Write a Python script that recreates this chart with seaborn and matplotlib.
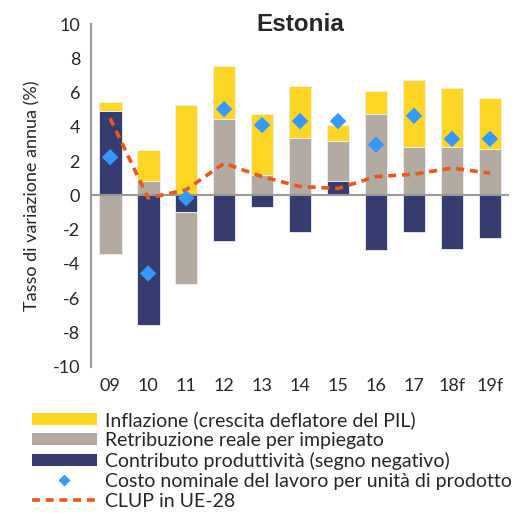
import numpy as np
import matplotlib
matplotlib.use("Agg")
import matplotlib.pyplot as plt
import seaborn as sns
from matplotlib.patches import Patch
from matplotlib.lines import Line2D

# --- data ---
anni = ["09", "10", "11", "12", "13", "14", "15", "16", "17", "18f", "19f"]
inflazione = [0.53, 1.79, 5.27, 3.12, 3.57, 3.04, 0.95, 1.35, 3.87, 3.45, 2.93]
retribuzione = [-3.39, 0.87, -4.20, 4.44, 1.18, 3.37, 2.29, 4.73, 2.85, 2.85, 2.73]
produttivita = [4.94, -7.58, -0.97, -2.67, -0.68, -2.15, 0.87, -3.20, -2.15, -3.10, -2.46]
clup_paese = [2.23, -4.55, -0.16, 5.04, 4.11, 4.34, 4.34, 2.96, 4.65, 3.30, 3.30]
clup_ue28 = [4.50, -0.15, 0.33, 1.88, 1.10, 0.52, 0.41, 1.10, 1.24, 1.60, 1.30]

col_infl = "#FFD624"
col_retr = "#B3AAA1"
col_prod = "#363B70"
col_diam = "#3399FF"
col_ue = "#E8581C"

sns.set_style("white")
plt.rcParams["font.family"] = ["Lato", "DejaVu Sans"]
plt.rcParams["axes.unicode_minus"] = False

fig = plt.figure(figsize=(5.12, 5.13), dpi=100)
ax = fig.add_axes([0.178, 0.285, 0.816, 0.668])

# stacking: productivity sits next to zero, then real pay, then inflation
prod = np.array(produttivita)
retr = np.array(retribuzione)
infl = np.array(inflazione)

pos_b = np.zeros(len(anni))
neg_b = np.zeros(len(anni))

def stack(vals):
    global pos_b, neg_b
    bottom = np.where(vals >= 0, pos_b, neg_b)
    pos_b = pos_b + np.clip(vals, 0, None)
    neg_b = neg_b + np.clip(vals, None, 0)
    return bottom

b_prod = stack(prod)
b_retr = stack(retr)
b_infl = stack(infl)

for vals, bot, col in [(prod, b_prod, col_prod), (retr, b_retr, col_retr), (infl, b_infl, col_infl)]:
    sns.barplot(x=anni, y=vals, bottom=bot, color=col, width=0.6,
                saturation=1, edgecolor="#EEEEF4", linewidth=0.6, ax=ax)

pos = np.arange(len(anni))
sns.lineplot(x=pos, y=clup_ue28, color=col_ue, linewidth=2.6, ax=ax,
             dashes=False, linestyle=(0, (2.2, 1.6)), zorder=4)
sns.scatterplot(x=pos, y=clup_paese, marker="D", s=70, color=col_diam,
                edgecolor="none", ax=ax, zorder=5)

ax.axhline(0, color="#999999", linewidth=1.5, zorder=3)
ax.set_ylim(-10, 10)
ax.set_xlim(-0.5, len(anni) - 0.5)
ax.set_yticks(np.arange(-10, 11, 2))
ax.set_xticks(pos)
ax.set_xticklabels(anni)
ax.tick_params(axis="both", labelsize=13, length=0, pad=8)
ax.set_xlabel("")
ax.set_ylabel("Tasso di variazione annua (%)", fontsize=13, labelpad=9)
for s in ["top", "right", "bottom"]:
    ax.spines[s].set_visible(False)
ax.spines["left"].set_color("#999999")
ax.spines["left"].set_linewidth(1.5)

fig.text(0.586, 0.953, "Estonia", ha="center", va="center", fontsize=17.5,
         fontweight="bold", family="Liberation Sans")

handles = [
    Patch(facecolor=col_infl, edgecolor="none"),
    Patch(facecolor=col_retr, edgecolor="none"),
    Patch(facecolor=col_prod, edgecolor="none"),
    Line2D([], [], marker="D", color=col_diam, linestyle="none", markersize=5.5),
    Line2D([], [], color=col_ue, linewidth=2.6, linestyle=(0, (2.2, 1.6))),
]
labels = [
    "Inflazione (crescita deflatore del PIL)",
    "Retribuzione reale per impiegato",
    "Contributo produttività (segno negativo)",
    "Costo nominale del lavoro per unità di prodotto",
    "CLUP in UE-28",
]
fig.legend(handles, labels, loc="upper left", bbox_to_anchor=(0.062, 0.199),
           frameon=False, fontsize=14, handlelength=3.35, handletextpad=0.4,
           labelspacing=0.15, borderaxespad=0, borderpad=0, handleheight=0.6)

fig.savefig("out.png", dpi=100)
